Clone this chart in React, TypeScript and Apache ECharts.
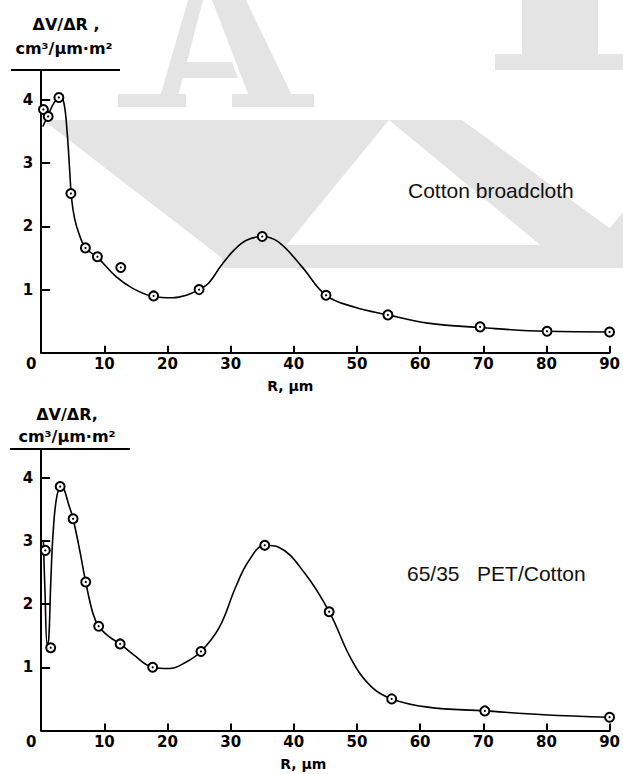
import React, { useEffect, useRef } from "react";
import * as echarts from "echarts";

// ---- Data ----
const topPointsR = [0.35, 1.1, 2.8, 4.7, 7.0, 8.9, 12.6, 17.8, 25.0, 35.0, 45.1, 54.9, 69.5, 80.1, 90];
const topPointsV = [3.85, 3.74, 4.04, 2.52, 1.66, 1.52, 1.35, 0.9, 1.0, 1.84, 0.91, 0.6, 0.41, 0.34, 0.33];

const topCurveR = [0.25, 1.2, 2.0, 3.0, 3.6, 4.1, 4.5, 4.8, 5.3, 6.0, 7.0, 8.9, 11.9, 14.5, 17.8, 20.8, 23.0, 25.0, 26.5, 28.5, 30.5, 32.5, 35.0, 37.6, 41.3, 45.1, 49.7, 54.9, 61.2, 69.5, 80, 90];
const topCurveV = [3.58, 3.78, 3.95, 4.05, 3.95, 3.5, 2.9, 2.45, 2.12, 1.88, 1.66, 1.51, 1.2, 1.02, 0.89, 0.87, 0.91, 1.0, 1.1, 1.38, 1.62, 1.78, 1.84, 1.75, 1.36, 0.91, 0.72, 0.6, 0.47, 0.4, 0.34, 0.33];

const bottomPointsR = [0.65, 1.5, 3.0, 5.05, 7.05, 9.1, 12.5, 17.65, 25.3, 35.4, 45.6, 55.5, 70.25, 90];
const bottomPointsV = [2.85, 1.31, 3.86, 3.35, 2.35, 1.65, 1.37, 1.0, 1.25, 2.93, 1.88, 0.5, 0.31, 0.21];

const bottomCurveR = [0.35, 0.6, 0.95, 1.2, 1.5, 1.9, 2.5, 3.2, 4.5, 5.05, 6.1, 7.05, 8.2, 9.1, 10.8, 12.5, 14.5, 17.65, 20.3, 22.9, 25.3, 28.2, 30.8, 32.9, 35.4, 37.6, 41.8, 45.6, 49.2, 52.3, 55.5, 61.2, 70.25, 79.6, 90];
const bottomCurveV = [3.0, 2.2, 1.35, 1.45, 2.3, 3.15, 3.72, 3.86, 3.53, 3.35, 2.85, 2.35, 1.85, 1.65, 1.48, 1.37, 1.21, 1.0, 0.98, 1.08, 1.25, 1.63, 2.27, 2.69, 2.93, 2.9, 2.48, 1.88, 1.11, 0.69, 0.5, 0.37, 0.31, 0.25, 0.21];

const xTickInterval = 10;
const yTickInterval = 1;
const topLabel = "Cotton broadcloth";
const bottomLabel = "65/35   PET/Cotton";
const yTitle1Top = "ΔV/ΔR ,";
const yTitle1Bottom = "ΔV/ΔR,";
const yTitle2 = "cm³/μm·m²";
const xTitle = "R, μm";

const pairs = (xs: number[], ys: number[]) => xs.map((x, i) => [x, ys[i]]);

const AX_FONT = "DejaVu Sans";
const GRAY = "#e4e4e4";

function makeXAxis(gridIndex: number) {
  return {
    gridIndex,
    type: "value",
    min: 0,
    max: 90,
    interval: xTickInterval,
    splitLine: { show: false },
    axisLine: { show: true, onZero: false, lineStyle: { color: "#000", width: 2 } },
    axisTick: { show: true, inside: true, length: 7, lineStyle: { color: "#000", width: 2 } },
    axisLabel: {
      color: "#000",
      fontFamily: AX_FONT,
      fontWeight: "bold",
      fontSize: 15,
      margin: 4,
      formatter: (v: number) => (v === 0 ? "{z|0}" : String(v)),
      rich: {
        z: { padding: [0, 20, 0, 0], color: "#000", fontFamily: AX_FONT, fontWeight: "bold", fontSize: 15 },
      },
    },
    name: xTitle,
    nameLocation: "middle",
    nameGap: 26,
    nameTextStyle: {
      color: "#000",
      fontFamily: AX_FONT,
      fontWeight: "bold",
      fontSize: 14,
      padding: [0, gridIndex === 0 ? 70 : 44, 0, 0],
    },
  };
}

function makeYAxis(gridIndex: number, max: number) {
  return {
    gridIndex,
    type: "value",
    min: 0,
    max,
    interval: yTickInterval,
    splitLine: { show: false },
    axisLine: { show: true, onZero: false, lineStyle: { color: "#000", width: 2 } },
    axisTick: { show: true, inside: true, length: 9, lineStyle: { color: "#000", width: 2 } },
    axisLabel: {
      color: "#000",
      fontFamily: AX_FONT,
      fontWeight: "bold",
      fontSize: 15,
      margin: 8,
      formatter: (v: number) => (v === 0 || !Number.isInteger(v) ? "" : String(v)),
    },
  };
}

function seriesFor(idx: number, cr: number[], cv: number[], pr: number[], pv: number[]) {
  return [
    {
      type: "line",
      xAxisIndex: idx,
      yAxisIndex: idx,
      data: pairs(cr, cv),
      smooth: 0.4,
      showSymbol: false,
      symbol: "none",
      lineStyle: { color: "#000", width: 1.6 },
      z: 3,
    },
    {
      type: "scatter",
      xAxisIndex: idx,
      yAxisIndex: idx,
      data: pairs(pr, pv),
      symbol: "circle",
      symbolSize: 9,
      itemStyle: { color: "#fff", borderColor: "#000", borderWidth: 2, opacity: 1 },
      z: 4,
    },
    {
      type: "scatter",
      xAxisIndex: idx,
      yAxisIndex: idx,
      data: pairs(pr, pv),
      symbol: "circle",
      symbolSize: 2.2,
      itemStyle: { color: "#000", opacity: 1 },
      z: 5,
    },
  ];
}

function watermark() {
  const poly = (points: number[][], fill = GRAY) => ({
    type: "polygon",
    silent: true,
    z: 0,
    shape: { points },
    style: { fill },
  });
  return [
    // serif "A" letter
    poly([[158, 104], [176, 104], [203, 0], [188, 0]]),
    poly([[212, 0], [246, 0], [296, 104], [252, 104]]),
    poly([[174, 62], [232, 62], [238, 78], [170, 78]]),
    poly([[118, 94], [186, 94], [186, 107], [118, 107]]),
    poly([[232, 94], [314, 94], [314, 107], [232, 107]]),
    // "I"-like block at top right
    poly([[522, 0], [598, 0], [598, 56], [522, 56]]),
    poly([[495, 54], [623, 54], [623, 70], [495, 70]]),
    // left arm of the big chevron
    poly([[43, 120], [389, 120], [276, 258], [222, 258]]),
    // right arm
    poly([[389, 120], [462, 120], [623, 238], [623, 258], [556, 258]]),
    // far right wedge
    poly([[585, 258], [623, 212], [623, 258]]),
    // horizontal bar
    poly([[222, 245], [623, 245], [623, 268], [222, 268]]),
  ];
}

export default function App() {
  const ref = useRef<HTMLDivElement>(null);
  useEffect(() => {
    if (!ref.current) return;
    const chart = echarts.init(ref.current, undefined, { renderer: "svg" });
    const titleText = (text: string, x: number, y: number, size = 16) => ({
      type: "text",
      z: 100,
      silent: true,
      x,
      y,
      style: {
        text,
        fill: "#000",
        font: `bold ${size}px "${AX_FONT}"`,
        align: "center",
        verticalAlign: "middle",
      },
    });
    const labelText = (text: string, x: number, y: number) => ({
      type: "text",
      z: 100,
      silent: true,
      x,
      y,
      style: {
        text,
        fill: "#111",
        font: `21px "Liberation Sans"`,
        align: "left",
        verticalAlign: "middle",
      },
    });
    const hline = (x1: number, x2: number, y: number) => ({
      type: "line",
      z: 100,
      silent: true,
      shape: { x1, y1: y, x2, y2: y },
      style: { stroke: "#000", lineWidth: 2 },
    });
    chart.setOption({
      animation: false,
      backgroundColor: "#fff",
      grid: [
        { left: 41.2, top: 70, width: 571.5, height: 282.8 },
        { left: 41.2, top: 449, width: 571.5, height: 281.5 },
      ],
      xAxis: [makeXAxis(0), makeXAxis(1)],
      yAxis: [makeYAxis(0, 282.8 / 63.2), makeYAxis(1, 281.5 / 63.2)],
      series: [
        ...seriesFor(0, topCurveR, topCurveV, topPointsR, topPointsV),
        ...seriesFor(1, bottomCurveR, bottomCurveV, bottomPointsR, bottomPointsV),
      ],
      graphic: [
        ...watermark(),
        titleText(yTitle1Top, 66, 24),
        titleText(yTitle2, 64, 48),
        hline(11, 120, 70),
        titleText(yTitle1Bottom, 67, 414),
        titleText(yTitle2, 67, 436),
        hline(10, 130, 449),
        labelText(topLabel, 408, 190),
        labelText(bottomLabel, 407, 573),
      ],
    });
    return () => chart.dispose();
  }, []);
  return (
    <div
      ref={ref}
      style={{ position: "fixed", left: 0, top: 0, width: 623, height: 774, background: "#fff" }}
    />
  );
}
